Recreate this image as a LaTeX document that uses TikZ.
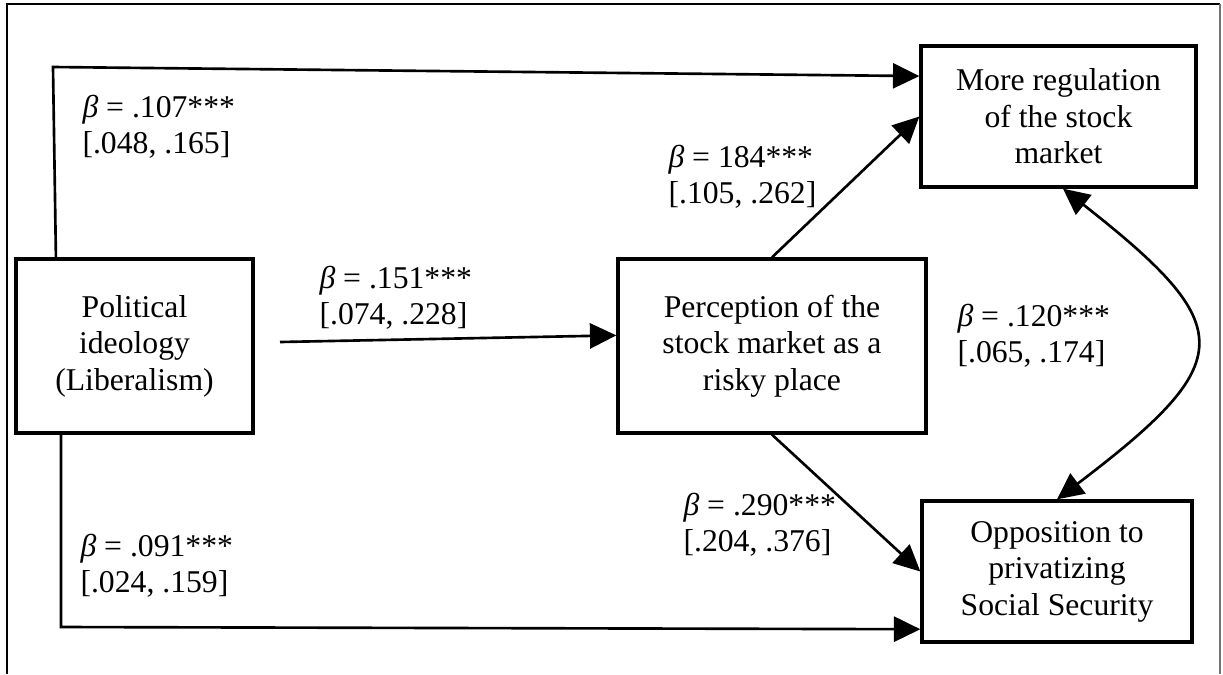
\documentclass[tikz,border=0pt]{standalone}
\usepackage{fontspec}
\setmainfont{Liberation Serif}
\usetikzlibrary{arrows.meta,calc}
\begin{document}
\begin{tikzpicture}[x=0.3788pt,y=-0.3788pt,
  font=\fontsize{12}{13.8}\selectfont,
  box/.style={draw,line width=1.25pt,align=center,inner sep=0pt},
  conn/.style={line width=1pt},
  arr/.style={conn,-{Triangle[length=10pt,width=9.5pt]}},
  darr/.style={conn,{Triangle[length=10pt,width=9.5pt]}-{Triangle[length=10pt,width=9.5pt]}},
  lab/.style={align=left,inner sep=0pt,anchor=west}]
\useasboundingbox (0,0) rectangle (1223,674);
% frame
\draw[line width=0.75pt] (7,674) -- (7,4) -- (1220,4);
\draw[line width=0.75pt,black!55] (1220,4) -- (1220,674);
% boxes
\node[box,minimum width=237*0.3788pt,minimum height=174*0.3788pt] (pol) at (134.5,346) {Political\\ideology\\(Liberalism)};
\node[box,minimum width=308*0.3788pt,minimum height=174*0.3788pt] (per) at (772,346) {Perception of the\\stock market as a\\risky place};
\node[box,minimum width=275*0.3788pt,minimum height=141*0.3788pt] (reg) at (1058.5,116.5) {More regulation\\of the stock\\market};
\node[box,minimum width=270*0.3788pt,minimum height=141*0.3788pt] (opp) at (1057,571.5) {Opposition to\\privatizing\\Social Security};
% coordinates
\coordinate (c1) at (53,67);
\coordinate (c2) at (61,627);
\coordinate (a1) at (280,342);
% connectors
\draw[arr] ($(pol.north west)!0.173!(pol.north east)$) -- (c1) -- ($(reg.north west)!0.22!(reg.south west)$);
\draw[arr] ($(pol.south west)!0.194!(pol.south east)$) -- (c2) -- ($(opp.north west)!0.9!(opp.south west)$);
\draw[arr] (a1) -- ($(per.north west)!0.44!(per.south west)$);
\draw[arr] (per.north) -- (reg.west);
\draw[arr] (per.south) -- (opp.west);
\draw[darr] ($(reg.south)+(4.5,0)$) .. controls (1239,327) and (1239,361) .. (opp.north);
% labels
\node[lab] (l1) at (82,127) {{\itshape β} = .107***\\[0pt][.048, .165]};
\node[lab] (l2) at (319,298) {{\itshape β} = .151***\\[0pt][.074, .228]};
\node[lab] (l3) at (668,177) {{\itshape β} = 184***\\[0pt][.105, .262]};
\node[lab] (l4) at (957,336) {{\itshape β} = .120***\\[0pt][.065, .174]};
\node[lab] (l5) at (683,525) {{\itshape β} = .290***\\[0pt][.204, .376]};
\node[lab] (l6) at (80,566) {{\itshape β} = .091***\\[0pt][.024, .159]};
\end{tikzpicture}
\end{document}
